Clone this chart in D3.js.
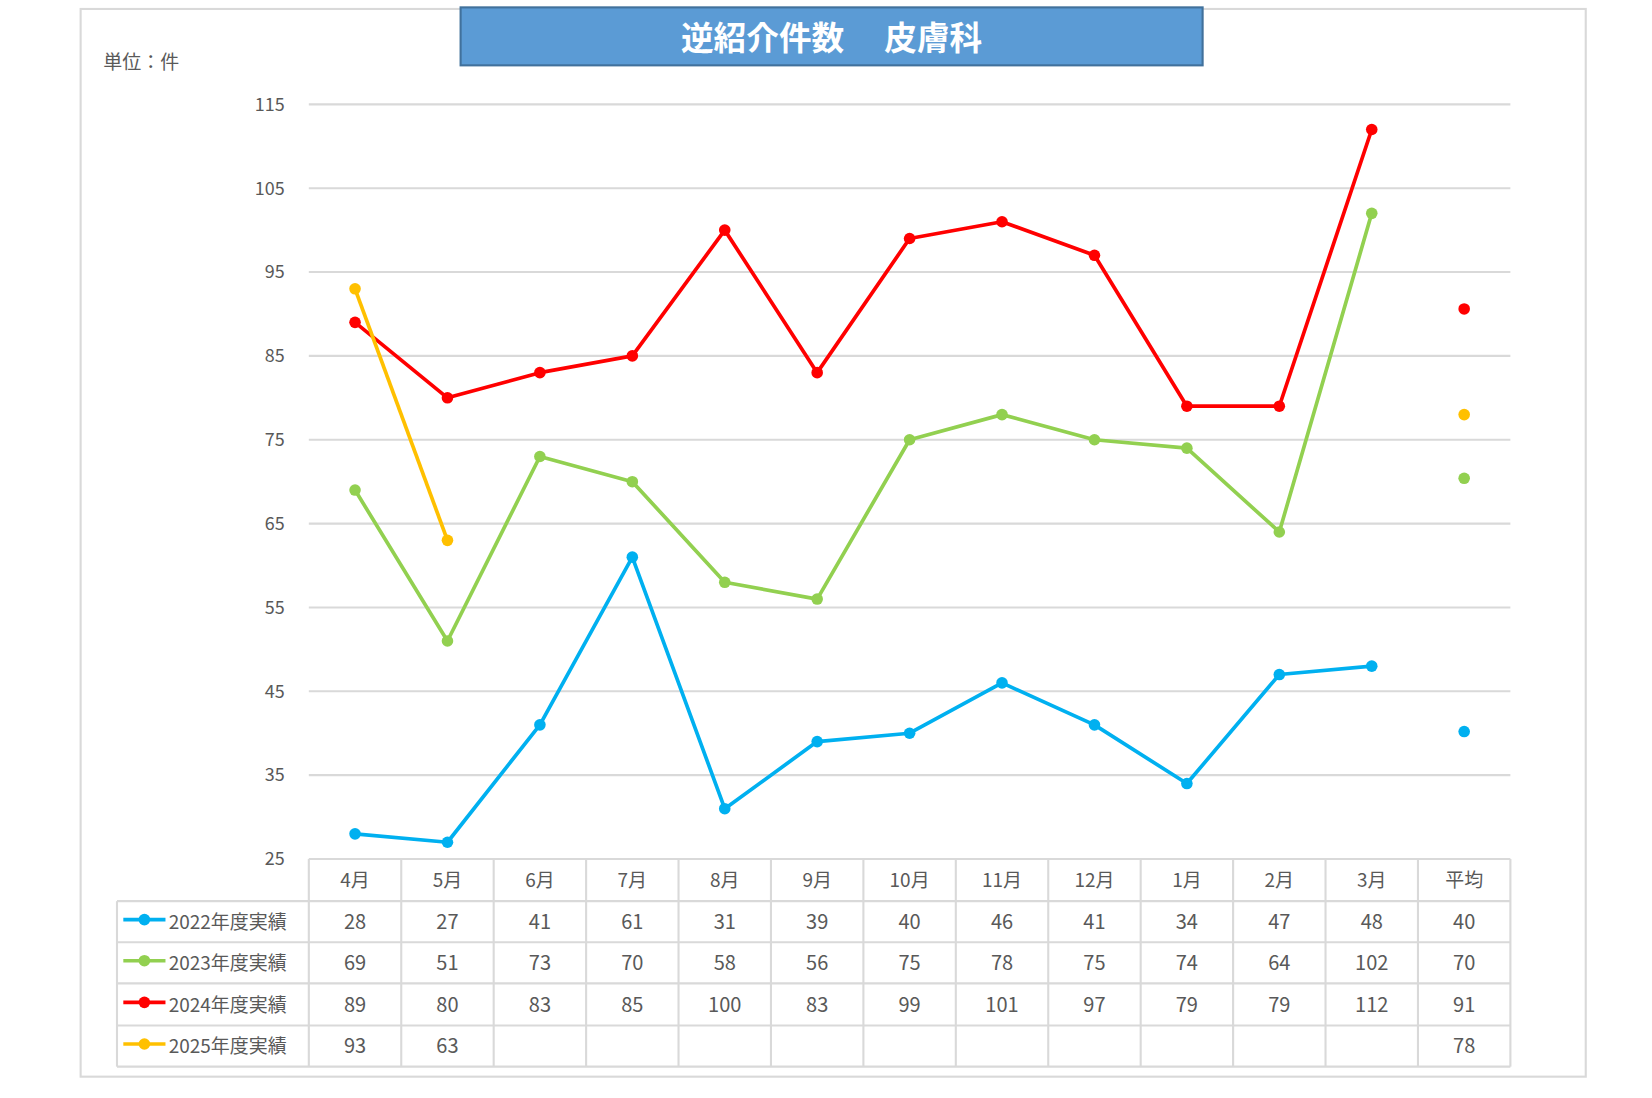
<!DOCTYPE html>
<html><head><meta charset="utf-8">
<script src="https://cdn.jsdelivr.net/npm/d3@7"></script>
<style>body{margin:0;background:#fff;font-family:"Noto Sans CJK JP","Noto Sans",sans-serif;}</style>
</head><body><svg id="c" width="1652" height="1098"></svg>
<script>
const months=["4月","5月","6月","7月","8月","9月","10月","11月","12月","1月","2月","3月"];
const avgLabel="平均";
const seriesNames=["2022年度実績","2023年度実績","2024年度実績","2025年度実績"];
const colors=["#00b0f0","#92d050","#ff0000","#ffc000"];
const v2022=[28,27,41,61,31,39,40,46,41,34,47,48];
const v2023=[69,51,73,70,58,56,75,78,75,74,64,102];
const v2024=[89,80,83,85,100,83,99,101,97,79,79,112];
const v2025=[93,63];
const avgValues=[40.2,70.4,90.6,78];
const avgText=["40","70","91","78"];
const yTicks=[25,35,45,55,65,75,85,95,105,115];
const data=[v2022,v2023,v2024,v2025];

const root=d3.select("#c").append("g").attr("transform","scale(1.054)");
const svg=root;
svg.append("rect").attr("x",76.5).attr("y",8.5).attr("width",1428).attr("height",1013).attr("fill","#fff").attr("stroke","#d9d9d9").attr("stroke-width",2);
svg.append("rect").attr("x",437).attr("y",7).attr("width",704).attr("height",55).attr("fill","#5b9bd5").attr("stroke","#41719c").attr("stroke-width",2);
svg.append("text").attr("x",789).attr("y",47).attr("text-anchor","middle").attr("fill","#fff").attr("font-size",31).attr("font-weight","bold").attr("xml:space","preserve").text("逆紹介件数　 皮膚科");
svg.append("text").attr("x",98).attr("y",65).attr("fill","#595959").attr("font-size",18).text("単位：件");

const cats=[...months,avgLabel];
const x=d3.scaleBand().domain(cats).range([293,1433]);
const y=d3.scaleLinear().domain([25,115]).range([815,99]);
const g=svg.append("g");
yTicks.forEach(t=>{
  if(t>25) g.append("line").attr("x1",293).attr("x2",1433).attr("y1",y(t)).attr("y2",y(t)).attr("stroke","#d9d9d9").attr("stroke-width",2);
  g.append("text").attr("x",270).attr("y",y(t)+6).attr("text-anchor","end").attr("fill","#595959").attr("font-size",17).text(t);
});
const cx=c=>x(c)+x.bandwidth()/2;
data.forEach((vals,i)=>{
  const pts=vals.map((v,j)=>[cx(months[j]),y(v)]);
  g.append("path").attr("d",d3.line()(pts)).attr("fill","none").attr("stroke",colors[i]).attr("stroke-width",3.5).attr("stroke-linejoin","round");
  pts.forEach(p=>g.append("circle").attr("cx",p[0]).attr("cy",p[1]).attr("r",5.5).attr("fill",colors[i]));
  g.append("circle").attr("cx",cx(avgLabel)).attr("cy",y(avgValues[i])).attr("r",5.5).attr("fill",colors[i]);
});
const rowY=[815,855,894,933,973,1012];
const tg=svg.append("g");
const lc="#d9d9d9";
tg.append("line").attr("x1",293).attr("x2",1433).attr("y1",815).attr("y2",815).attr("stroke",lc).attr("stroke-width",2);
for(let r=1;r<rowY.length;r++) tg.append("line").attr("x1",111).attr("x2",1433).attr("y1",rowY[r]).attr("y2",rowY[r]).attr("stroke",lc).attr("stroke-width",2);
tg.append("line").attr("x1",111).attr("x2",111).attr("y1",855).attr("y2",1012).attr("stroke",lc).attr("stroke-width",2);
cats.forEach(c=>tg.append("line").attr("x1",x(c)).attr("x2",x(c)).attr("y1",815).attr("y2",1012).attr("stroke",lc).attr("stroke-width",2));
tg.append("line").attr("x1",1433).attr("x2",1433).attr("y1",815).attr("y2",1012).attr("stroke",lc).attr("stroke-width",2);
cats.forEach(c=>tg.append("text").attr("x",cx(c)).attr("y",842).attr("text-anchor","middle").attr("fill","#595959").attr("font-size",18).text(c));
data.forEach((vals,i)=>{
  const ty=(rowY[i+1]+rowY[i+2])/2+7;
  const ly=(rowY[i+1]+rowY[i+2])/2;
  tg.append("line").attr("x1",117).attr("x2",157).attr("y1",ly-2).attr("y2",ly-2).attr("stroke",colors[i]).attr("stroke-width",3.5);
  tg.append("circle").attr("cx",137).attr("cy",ly-2).attr("r",5.5).attr("fill",colors[i]);
  tg.append("text").attr("x",160).attr("y",ty).attr("fill","#595959").attr("font-size",18).text(seriesNames[i]);
  vals.forEach((v,j)=>tg.append("text").attr("x",cx(months[j])).attr("y",ty).attr("text-anchor","middle").attr("fill","#595959").attr("font-size",19).text(v));
  tg.append("text").attr("x",cx(avgLabel)).attr("y",ty).attr("text-anchor","middle").attr("fill","#595959").attr("font-size",19).text(avgText[i]);
});
</script></body></html>
